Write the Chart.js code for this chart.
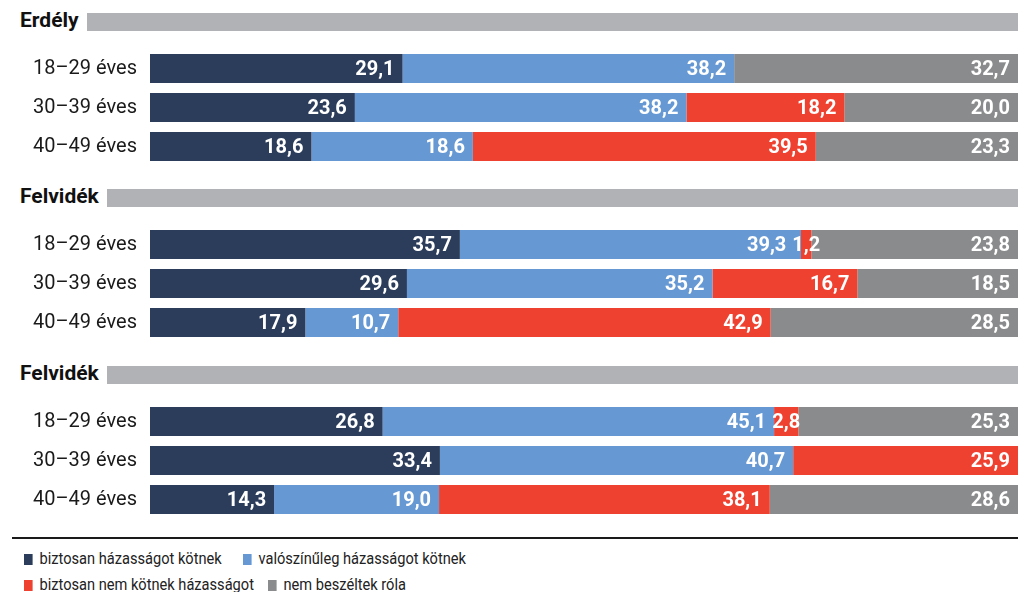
<!DOCTYPE html>
<html><head><meta charset="utf-8">
<script src="https://cdn.jsdelivr.net/npm/chart.js@4"></script>
<style>
html,body{margin:0;padding:0;background:#fff;width:1018px;height:592px;overflow:hidden;font-family:Roboto,sans-serif}
.hdr{position:absolute;left:20px;right:0;height:18px;display:flex;align-items:center}
.hdr span{font-weight:700;font-size:21px;color:#111;line-height:18px;white-space:nowrap;position:relative;top:-2px}
.hdr i{flex:1;height:18px;background:#b0b2b5;margin-left:8px}
.chart{position:absolute;left:0;width:1018px;height:117px}
#rule{position:absolute;left:12px;right:0;top:537px;height:2px;background:#1a1a1a}
.leg{position:absolute;font-size:17px;color:#222;white-space:nowrap;line-height:20px;transform:scaleX(0.86);transform-origin:0 50%}
.leg b{display:inline-block;width:10px;height:11px;margin-right:8px;vertical-align:-1px}
</style></head>
<body>
<div id="root"></div>
<script>
// ---- data ----
const categories = ['18–29 éves', '30–39 éves', '40–49 éves'];
const groupTitles = ['Erdély', 'Felvidék', 'Felvidék'];
const seriesNames = ['biztosan házasságot kötnek', 'valószínűleg házasságot kötnek', 'biztosan nem kötnek házasságot', 'nem beszéltek róla'];
const seriesColors = ['#2b3d5b', '#6699d3', '#ef4130', '#8a8b8d'];

const g1Certain  = [29.1, 23.6, 18.6];
const g1Likely   = [38.2, 38.2, 18.6];
const g1Not      = [0,    18.2, 39.5];
const g1Unknown  = [32.7, 20.0, 23.3];

const g2Certain  = [35.7, 29.6, 17.9];
const g2Likely   = [39.3, 35.2, 10.7];
const g2Not      = [1.2,  16.7, 42.9];
const g2Unknown  = [23.8, 18.5, 28.5];

const g3Certain  = [26.8, 33.4, 14.3];
const g3Likely   = [45.1, 40.7, 19.0];
const g3Not      = [2.8,  25.9, 38.1];
const g3Unknown  = [25.3, 0,    28.6];

const groupSeries = [
  [g1Certain, g1Likely, g1Not, g1Unknown],
  [g2Certain, g2Likely, g2Not, g2Unknown],
  [g3Certain, g3Likely, g3Not, g3Unknown]
];

// ---- layout ----
const headerTops = [13, 189, 366];
const chartTops = [49, 225, 402];

const valueLabels = {
  id: 'valueLabels',
  afterDatasetsDraw(chart) {
    const ctx = chart.ctx;
    ctx.save();
    ctx.font = '700 20px Roboto';
    ctx.fillStyle = '#ffffff';
    ctx.textBaseline = 'middle';
    ctx.textAlign = 'left';
    const nRows = chart.data.labels.length;
    for (let j = 0; j < nRows; j++) {
      // compute label boxes for this row
      const items = [];
      chart.data.datasets.forEach((ds, i) => {
        const v = ds.data[j];
        if (!v) return;
        const bar = chart.getDatasetMeta(i).data[j];
        const txt = v.toFixed(1).replace('.', ',');
        const w = ctx.measureText(txt).width;
        const left = Math.min(bar.base, bar.x), right = Math.max(bar.base, bar.x);
        let x0;
        if (right - left < w + 14) x0 = (left + right) / 2 - w / 2;
        else x0 = right - 8 - w;
        items.push({ txt, w, x0, y: bar.y });
      });
      // resolve overlaps: shift earlier labels left
      for (let k = items.length - 2; k >= 0; k--) {
        const maxRight = items[k + 1].x0 - 6;
        if (items[k].x0 + items[k].w > maxRight) items[k].x0 = maxRight - items[k].w;
      }
      items.forEach(it => ctx.fillText(it.txt, it.x0, it.y + 1));
    }
    ctx.restore();
  }
};

const root = document.getElementById('root');
groupTitles.forEach((title, g) => {
  const h = document.createElement('div');
  h.className = 'hdr';
  h.style.top = headerTops[g] + 'px';
  const s = document.createElement('span'); s.textContent = title;
  h.appendChild(s); h.appendChild(document.createElement('i'));
  root.appendChild(h);

  const wrap = document.createElement('div');
  wrap.className = 'chart';
  wrap.style.top = chartTops[g] + 'px';
  const c = document.createElement('canvas');
  wrap.appendChild(c);
  root.appendChild(wrap);

  new Chart(c, {
    type: 'bar',
    data: {
      labels: categories,
      datasets: seriesNames.map((n, k) => ({
        label: n,
        data: groupSeries[g][k],
        backgroundColor: seriesColors[k],
        borderWidth: 0,
        barPercentage: 29 / 39,
        categoryPercentage: 1
      }))
    },
    options: {
      indexAxis: 'y',
      responsive: true,
      animation: false,
      maintainAspectRatio: false,
      layout: { padding: 0 },
      plugins: { legend: { display: false }, tooltip: { enabled: false } },
      scales: {
        x: { stacked: true, min: 0, max: 100, display: false },
        y: {
          stacked: true,
          grid: { display: false, drawTicks: false },
          border: { display: false },
          ticks: { color: '#1a1a1a', font: { family: 'Roboto', size: 20 }, padding: 13 },
          afterFit(s) { s.width = 150; s.paddingTop = 0; s.paddingBottom = 0; }
        }
      }
    },
    plugins: [valueLabels]
  });
});

const rule = document.createElement('div'); rule.id = 'rule'; root.appendChild(rule);

const legPos = [[24, 548], [243, 548], [24, 574], [268, 574]];
seriesNames.forEach((n, k) => {
  const d = document.createElement('div');
  d.className = 'leg';
  d.style.left = legPos[k][0] + 'px';
  d.style.top = legPos[k][1] + 'px';
  const b = document.createElement('b'); b.style.background = seriesColors[k];
  d.appendChild(b); d.appendChild(document.createTextNode(n));
  root.appendChild(d);
});
</script>
</body></html>
